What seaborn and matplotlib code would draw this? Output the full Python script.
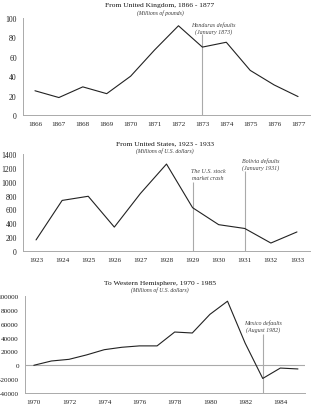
import numpy as np
import pandas as pd
import seaborn as sns
import matplotlib.pyplot as plt
from matplotlib.ticker import MultipleLocator

## data
uk_years = list(range(1866, 1878))
uk_values = [25, 18, 29, 22, 40, 67, 92, 70, 75, 46, 31, 19]

us_years = list(range(1923, 1934))
us_values = [160, 730, 790, 345, 830, 1255, 625, 380, 325, 115, 275]

wh_years = list(range(1970, 1986))
wh_values = [0, 6200, 8600, 15000, 22500, 26000, 28000, 28000, 48000, 46600,
             73500, 92500, 32000, -19000, -4000, -5300]

uk_events = [1873]
uk_event_tops = [83]
uk_event_text = ['Honduras defaults\n(January 1873)']

us_events = [1929, 1931]
us_event_tops = [1000, 1160]
us_event_text = ['The U.S. stock\nmarket crash', 'Bolivia defaults\n(January 1931)']

wh_events = [1983]
wh_event_tops = [45000]
wh_event_text = ['Mexico defaults\n(August 1982)']

sns.set_style('white')
plt.rcParams['font.family'] = ['Liberation Serif', 'DejaVu Serif']
plt.rcParams['axes.unicode_minus'] = False

W, H = 312, 414
fig = plt.figure(figsize=(W / 100, H / 100), dpi=100)

line_col = '#222222'
grey = '#aaaaaa'
note_col = '#444444'


def make_ax(left, right, top, bottom):
    return fig.add_axes([left / W, 1 - bottom / H, (right - left) / W, (bottom - top) / H])


def style_ax(ax, ysize=5.6):
    for s in ['top', 'right']:
        ax.spines[s].set_visible(False)
    for s in ['left', 'bottom']:
        ax.spines[s].set_color(grey)
        ax.spines[s].set_linewidth(0.7)
    ax.tick_params(axis='y', which='major', labelsize=ysize, length=1.5, width=0.5,
                   color=grey, pad=3, labelcolor='#222222')
    ax.tick_params(axis='x', which='major', labelsize=5.1, length=0, pad=4, labelcolor='#222222')
    ax.tick_params(axis='x', which='minor', length=2, width=0.5, color=grey, direction='in')
    ax.set_xlabel('')
    ax.set_ylabel('')


def add_events(ax, xs, tops, ymin, texts, text_y, dx=0):
    ax.vlines(xs, ymin, tops, color=grey, lw=0.8, zorder=1)
    for x, t, ty in zip(xs, texts, text_y):
        ax.text(x + dx, ty, t, ha='center', va='center', fontsize=4.3,
                style='italic', color=note_col, linespacing=1.3)


def headers(title, sub, y1, y2, xc=160):
    fig.text(xc / W, 1 - y1 / H, title, ha='center', va='center', fontsize=5.4, color='#111111')
    fig.text(xc / W, 1 - y2 / H, sub, ha='center', va='center', fontsize=4.1,
             style='italic', color='#333333')


# panel 1
df1 = pd.DataFrame({'year': uk_years, 'value': uk_values})
ax1 = make_ax(23, 310, 19, 116)
sns.lineplot(data=df1, x='year', y='value', ax=ax1, color=line_col, lw=0.8)
ax1.set_xlim(uk_years[0] - 0.5, uk_years[-1] + 0.5)
ax1.set_ylim(0, 100)
ax1.yaxis.set_major_locator(MultipleLocator(20))
ax1.set_xticks(uk_years)
ax1.set_xticks(np.array(uk_years[:-1]) + 0.5, minor=True)
style_ax(ax1)
add_events(ax1, uk_events, uk_event_tops, 0, uk_event_text, [90], dx=0.45)
headers('From United Kingdom, 1866 - 1877', '(Millions of pounds)', 5.5, 13.5)

# panel 2
df2 = pd.DataFrame({'year': us_years, 'value': us_values})
ax2 = make_ax(23, 310, 155, 252)
sns.lineplot(data=df2, x='year', y='value', ax=ax2, color=line_col, lw=0.8)
ax2.set_xlim(us_years[0] - 0.5, us_years[-1] + 0.5)
ax2.set_ylim(0, 1400)
ax2.yaxis.set_major_locator(MultipleLocator(200))
ax2.set_xticks(us_years)
ax2.set_xticks(np.array(us_years[:-1]) + 0.5, minor=True)
style_ax(ax2)
add_events(ax2, us_events, us_event_tops, 0, us_event_text, [1110, 1260], dx=0.6)
headers('From United States, 1923 - 1933', '(Millions of U.S. dollars)', 144, 151, xc=165)

# panel 3
df3 = pd.DataFrame({'year': wh_years, 'value': wh_values})
ax3 = make_ax(25, 305, 297, 394)
ax3.axhline(0, color=grey, lw=0.8, zorder=1)
sns.lineplot(data=df3, x='year', y='value', ax=ax3, color=line_col, lw=0.8)
ax3.set_xlim(1969.5, 1985.4)
ax3.set_ylim(-40000, 100000)
ax3.yaxis.set_major_locator(MultipleLocator(20000))
ax3.set_xticks(wh_years[:-1:2])
ax3.set_xticks(np.array(wh_years[:-1]) + 0.5, minor=True)
style_ax(ax3, ysize=5.2)
add_events(ax3, wh_events, wh_event_tops, -40000, wh_event_text, [57000], dx=0)
headers('To Western Hemisphere, 1970 - 1985', '(Millions of U.S. dollars)', 284, 290.5)

fig.savefig('out.png', dpi=100)
